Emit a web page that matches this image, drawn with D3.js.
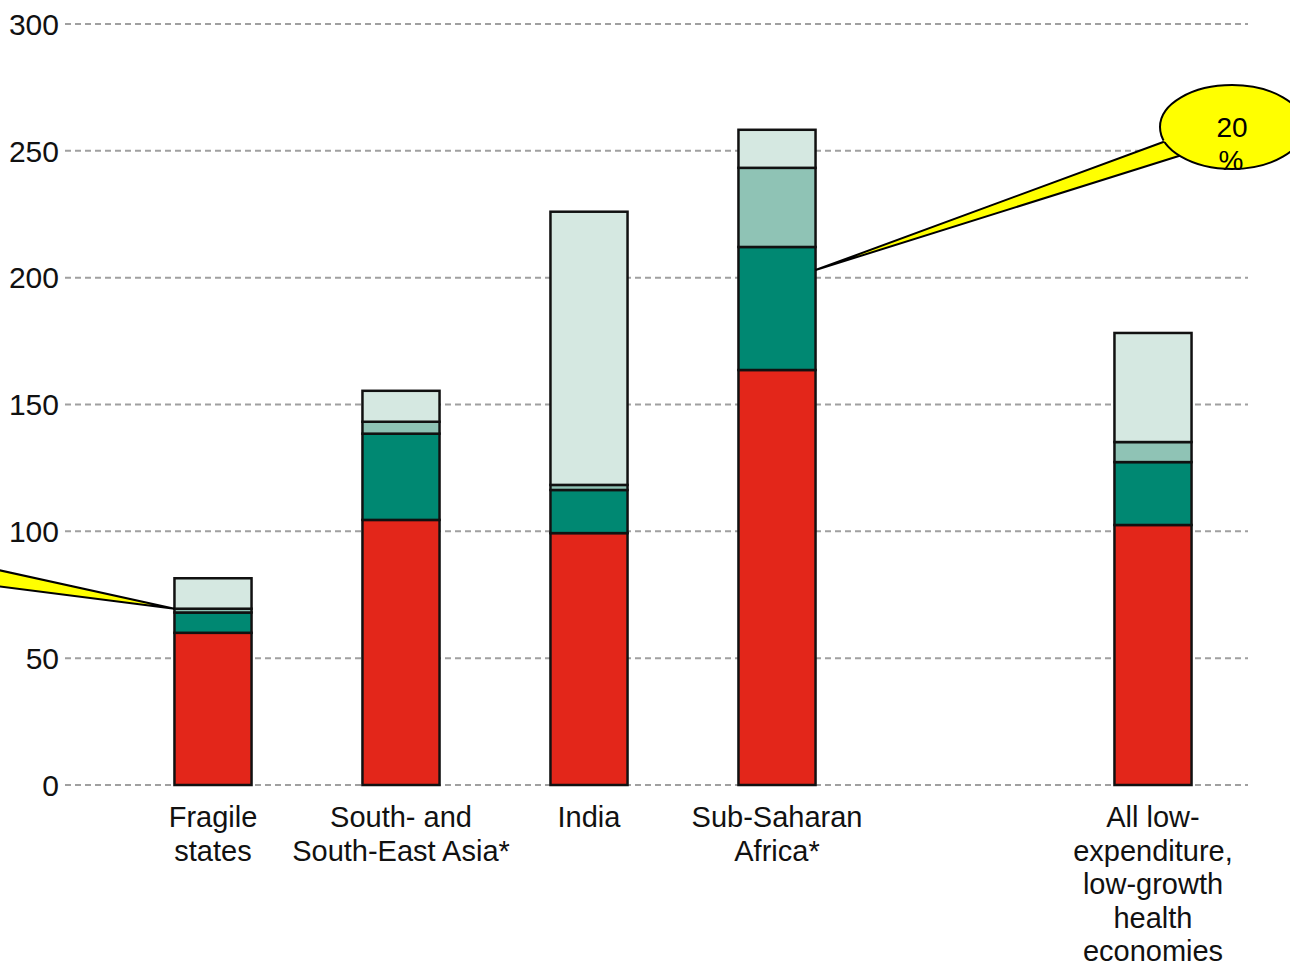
<!DOCTYPE html>
<html><head><meta charset="utf-8">
<script src="https://cdn.jsdelivr.net/npm/d3@7"></script>
<style>
html,body{margin:0;padding:0;background:#fff;}
svg{display:block;font-family:"Liberation Sans",Arial,Helvetica,sans-serif;}
</style></head>
<body>
<svg id="chart" width="1290" height="967"></svg>
<script>
const categories = ["Fragile states","South- and South-East Asia*","India","Sub-Saharan Africa*","All low-expenditure, low-growth health economies"];
const categoryLines = [["Fragile","states"],["South- and","South-East Asia*"],["India"],["Sub-Saharan","Africa*"],["All low-","expenditure,","low-growth","health","economies"]];
const seriesA = [60, 104.5, 99.3, 163.6, 102.5];   // red
const seriesB = [8, 34, 17, 48.5, 24.8];           // dark green
const seriesC = [1.5, 4.7, 2, 31.2, 7.9];          // mid green
const seriesD = [12, 12.2, 107.7, 15, 43];         // light green
const yTicks = [0, 50, 100, 150, 200, 250, 300];
const calloutText = ["20", "%"];

const colors = ["#e3261a", "#008872", "#8fc3b5", "#d5e8e1"];
const keys = ["a","b","c","d"];
const rows = categories.map((c,i)=>({cat:c, a:seriesA[i], b:seriesB[i], c:seriesC[i], d:seriesD[i]}));

const svg = d3.select("#chart");
const slots = [...categories.slice(0,4), "__gap__", categories[4]];
const x = d3.scaleBand().domain(slots).range([119, 1247]).paddingInner(0.59).paddingOuter(0.295);
const y = d3.scaleLinear().domain([0,300]).range([785, 24]);

// grid
const gridL = 65, gridR = 1248;
svg.append("g").selectAll("line").data(yTicks).join("line")
  .attr("x1", gridL).attr("x2", gridR)
  .attr("y1", d=>y(d)).attr("y2", d=>y(d))
  .attr("stroke", "#a0a0a0").attr("stroke-width", 2).attr("stroke-dasharray", "6,4");
const yAxis = d3.axisLeft(y).tickValues(yTicks).tickSize(0).tickPadding(0);
const ag = svg.append("g").attr("transform", `translate(59,0)`).call(yAxis);
ag.select(".domain").remove();
ag.selectAll("text").attr("font-size", 30).attr("fill", "#111").attr("dy", "0.34em")
  .style("font-family", '"Liberation Sans",Arial,sans-serif');

// stacks
const stack = d3.stack().keys(keys)(rows);
const g = svg.append("g");
stack.forEach((layer, li) => {
  g.append("g").selectAll("rect").data(layer).join("rect")
    .attr("x", d=>x(d.data.cat)).attr("width", x.bandwidth())
    .attr("y", d=>y(d[1])).attr("height", d=>y(d[0]) - y(d[1]))
    .attr("fill", colors[li]).attr("stroke", "#111").attr("stroke-width", 2.5);
});

// category labels
categories.forEach((c,i) => {
  const t = svg.append("text").attr("text-anchor","middle").attr("font-size", 29).attr("fill","#111")
    .attr("x", x(c) + x.bandwidth()/2);
  categoryLines[i].forEach((ln,j)=>{
    t.append("tspan").attr("x", x(c) + x.bandwidth()/2).attr("y", 827 + j*33.5).text(ln);
  });
});

// callouts
const ann = svg.append("g");
// left callout (ellipse off-canvas), tip at Fragile states bar
const fx = x(categories[0]);
const fy = y(seriesA[0] + seriesB[0] + seriesC[0]);
ann.append("path").attr("d", `M-20,566 L${fx},${fy} L-20,584`)
  .attr("fill", "#ffff00").attr("stroke", "#000").attr("stroke-width", 2).attr("stroke-linejoin","miter");
// right callout at Sub-Saharan bar
const sx = x(categories[3]) + x.bandwidth();
const sy = y(203);
ann.append("path").attr("d", `M1166,141 L${sx},${sy} L1182,155`)
  .attr("fill", "#ffff00").attr("stroke", "#000").attr("stroke-width", 2);
ann.append("ellipse").attr("cx", 1232).attr("cy", 127).attr("rx", 72).attr("ry", 42)
  .attr("fill", "#ffff00").attr("stroke", "#000").attr("stroke-width", 2);
// cover the wedge base inside ellipse
ann.append("path").attr("d", `M1163,141 L1190,150 L1200,140 L1175,132 Z`).attr("fill", "#ffff00");
ann.append("text").attr("x", 1232).attr("y", 137).attr("text-anchor","middle").attr("font-size", 28).text(calloutText[0]);
ann.append("text").attr("x", 1231).attr("y", 170).attr("text-anchor","middle").attr("font-size", 28).text(calloutText[1]);
</script>
</body></html>
